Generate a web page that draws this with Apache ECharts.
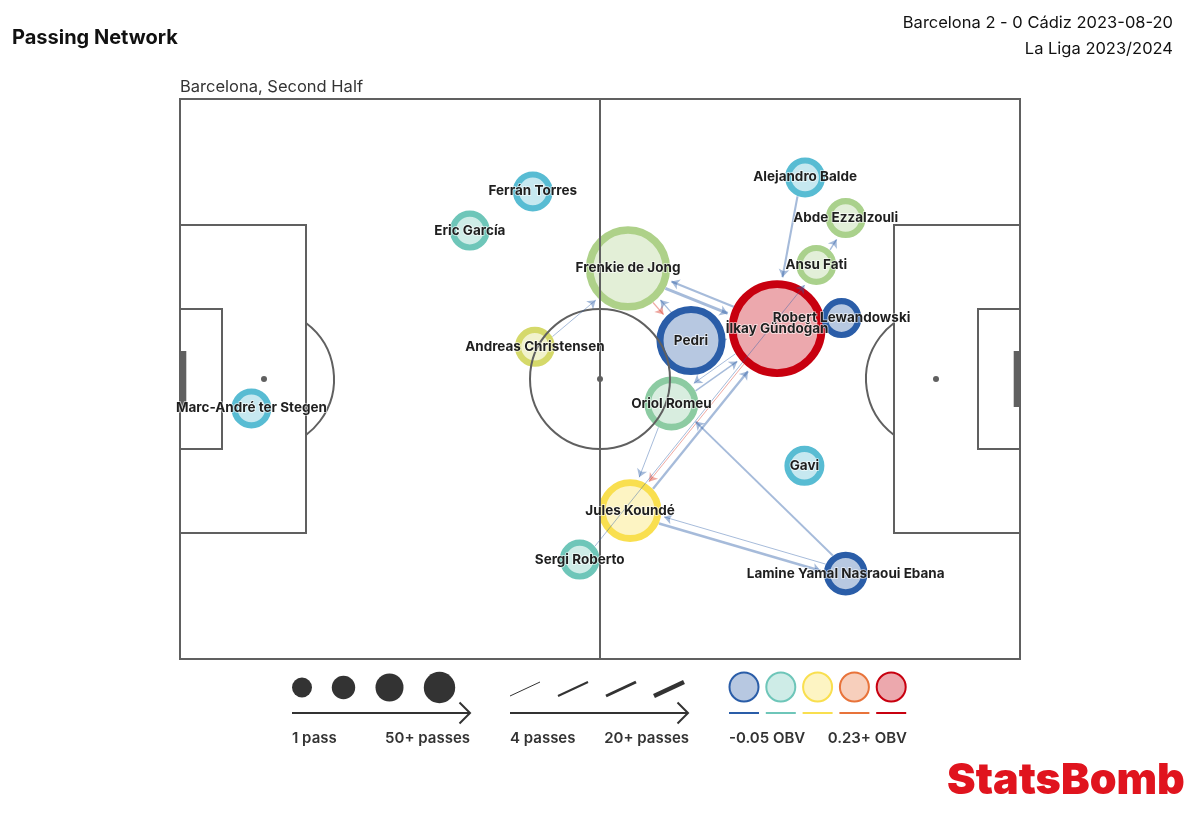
<!DOCTYPE html>
<html>
<head>
<meta charset="utf-8">
<title>Passing Network</title>
<script src="https://cdn.jsdelivr.net/npm/echarts@6/dist/echarts.min.js"></script>
<style>
  html, body { margin: 0; padding: 0; background: #fff; }
  #chart { width: 1200px; height: 828px; }
</style>
</head>
<body>
<div id="chart"></div>
<script>
// players, positions in StatsBomb pitch units (120 x 80, y pointing down)
const players = ['Marc-André ter Stegen', 'Ferrán Torres', 'Eric García', 'Andreas Christensen',
  'Frenkie de Jong', 'Pedri', 'İlkay Gündoğan', 'Robert Lewandowski', 'Ansu Fati',
  'Abde Ezzalzouli', 'Alejandro Balde', 'Oriol Romeu', 'Gavi', 'Jules Koundé',
  'Sergi Roberto', 'Lamine Yamal Nasraoui Ebana'];
const playerX = [10.2, 50.4, 41.4, 50.7, 64.0, 73.0, 85.3, 94.5, 90.9, 95.1, 89.3, 70.2, 89.2, 64.3, 57.1, 95.1];
const playerY = [44.2, 13.2, 18.8, 35.4, 24.2, 34.5, 32.8, 31.3, 23.7, 17.0, 11.2, 43.5, 52.4, 58.8, 65.8, 67.8];
const playerPasses = [1, 1, 1, 1, 36, 24, 46, 1, 1, 1, 1, 12, 1, 19, 1, 4];
const playerObv = [-0.015, -0.015, 0.02, 0.072, 0.052, -0.05, 0.23, -0.05, 0.05, 0.05, -0.015, 0.035, -0.015, 0.09, 0.02, -0.05];

// pass links between players
const edgeFrom = ['Alejandro Balde', 'Ansu Fati', 'Jules Koundé', 'İlkay Gündoğan', 'Oriol Romeu',
  'Jules Koundé', 'Lamine Yamal Nasraoui Ebana', 'Lamine Yamal Nasraoui Ebana', 'Sergi Roberto',
  'Andreas Christensen', 'Frenkie de Jong', 'İlkay Gündoğan', 'Frenkie de Jong', 'Pedri',
  'Oriol Romeu', 'İlkay Gündoğan', 'Pedri'];
const edgeTo = ['İlkay Gündoğan', 'Abde Ezzalzouli', 'İlkay Gündoğan', 'Jules Koundé', 'Jules Koundé',
  'Lamine Yamal Nasraoui Ebana', 'Jules Koundé', 'Oriol Romeu', 'Ansu Fati',
  'Frenkie de Jong', 'İlkay Gündoğan', 'Frenkie de Jong', 'Pedri', 'Frenkie de Jong',
  'İlkay Gündoğan', 'Oriol Romeu', 'İlkay Gündoğan'];
const edgePasses = [9, 6, 10, 4, 4, 11, 4, 8, 4, 4, 13, 9, 5, 5, 6, 4, 5];
const edgeObv = [-0.05, -0.05, -0.05, 0.2, -0.05, -0.05, -0.05, -0.05, -0.05, -0.05, -0.05, -0.05, 0.2, -0.05, -0.05, -0.05, -0.05];

// OBV colour scale
const obvStops = [-0.05, -0.015, 0.02, 0.09, 0.16, 0.23];
const obvColors = ['#2a5da8', '#58bcd3', '#6ec6b9', '#f9df4f', '#e8733a', '#c8000f'];
const legendObvColors = ['#2a5da8', '#6ec6b9', '#f9df4f', '#e8733a', '#c8000f'];

const pitchColor = '#606060';
const inkColor = '#1f1f1f';

function obvColor(v) {
  if (v <= obvStops[0]) return obvColors[0];
  for (let i = 1; i < obvStops.length; i++) {
    if (v <= obvStops[i]) {
      const t = (v - obvStops[i - 1]) / (obvStops[i] - obvStops[i - 1]);
      return echarts.color.lerp(t, [obvColors[i - 1], obvColors[i]]);
    }
  }
  return obvColors[obvColors.length - 1];
}
function lighten(c) {
  return echarts.color.lerp(0.66, [c, '#ffffff']);
}
// node radius in px from pass count
function nodeRadius(p) {
  return 20 + (Math.min(p, 50) - 1) / 49 * 31;
}
function ringWidth(r) {
  return 5 + r * 0.06;
}
function edgeWidth(n) {
  return 1 + (Math.min(n, 20) - 4) / 16 * 3.5;
}

const gridW = 840, gridH = 560;
const unitPx = gridW / 120;

const nodes = players.map((name, i) => {
  const r = nodeRadius(playerPasses[i]);
  const bw = ringWidth(r);
  const c = obvColor(playerObv[i]);
  return {
    name: name,
    value: [playerX[i], playerY[i]],
    r: r,
    symbolSize: 2 * (r - bw / 2),
    itemStyle: { color: lighten(c), borderColor: c, borderWidth: bw, opacity: 1 }
  };
}).sort((a, b) => b.r - a.r);

const byName = {};
nodes.forEach(n => { byName[n.name] = n; });

const edges = edgeFrom.map((from, i) => {
  const s = byName[from], t = byName[edgeTo[i]];
  const dx = t.value[0] - s.value[0], dy = t.value[1] - s.value[1];
  const len = Math.sqrt(dx * dx + dy * dy);
  const ux = dx / len, uy = dy / len;
  const w = edgeWidth(edgePasses[i]);
  const off = (3 + w / 2) / unitPx;
  const nx = -uy * off, ny = ux * off;
  const rs = s.r / unitPx, rt = (t.r + 3) / unitPx;
  return {
    coords: [
      [s.value[0] + ux * rs + nx, s.value[1] + uy * rs + ny],
      [t.value[0] - ux * rt + nx, t.value[1] - uy * rt + ny]
    ],
    lineStyle: { width: w, opacity: 1, color: echarts.color.modifyAlpha(obvColor(edgeObv[i]), 0.42) }
  };
});

function renderPitch(params, api) {
  const p = (x, y) => api.coord([x, y]);
  const u = api.size([1, 1])[0];
  const line = { stroke: pitchColor, lineWidth: 2, fill: null };
  const rect = (x0, y0, x1, y1) => {
    const a = p(x0, y0), b = p(x1, y1);
    return { type: 'rect', shape: { x: a[0], y: a[1], width: b[0] - a[0], height: b[1] - a[1] }, style: line };
  };
  const spot = (x, y) => {
    const a = p(x, y);
    return { type: 'circle', shape: { cx: a[0], cy: a[1], r: 3 }, style: { fill: pitchColor } };
  };
  const goal = (x0, x1) => {
    const a = p(x0, 36), b = p(x1, 44);
    return { type: 'rect', shape: { x: a[0], y: a[1], width: b[0] - a[0], height: b[1] - a[1] }, style: { fill: pitchColor } };
  };
  const c = p(60, 40), lp = p(12, 40), rp = p(108, 40);
  const half1 = p(60, 0), half2 = p(60, 80);
  const ang = Math.acos(0.6);
  return {
    type: 'group',
    children: [
      rect(0, 0, 120, 80),
      { type: 'line', shape: { x1: half1[0], y1: half1[1], x2: half2[0], y2: half2[1] }, style: line },
      { type: 'circle', shape: { cx: c[0], cy: c[1], r: 10 * u }, style: line },
      rect(0, 18, 18, 62),
      rect(0, 30, 6, 50),
      rect(102, 18, 120, 62),
      rect(114, 30, 120, 50),
      { type: 'arc', shape: { cx: lp[0], cy: lp[1], r: 10 * u, startAngle: -ang, endAngle: ang, clockwise: true }, style: line },
      { type: 'arc', shape: { cx: rp[0], cy: rp[1], r: 10 * u, startAngle: Math.PI - ang, endAngle: Math.PI + ang, clockwise: true }, style: line },
      goal(0, 0.9),
      goal(119.1, 120),
      spot(60, 40), spot(12, 40), spot(108, 40)
    ]
  };
}

const chart = echarts.init(document.getElementById('chart'), null, { renderer: 'canvas' });

const legendFont = '600 15px Inter';
const graphic = [
  { type: 'text', x: 12, y: 38, style: { text: 'Passing Network', font: 'bold 20px Inter', fill: '#111', verticalAlign: 'middle' } },
  { type: 'text', x: 1173, y: 23, style: { text: 'Barcelona 2 - 0 Cádiz 2023-08-20', font: '16.5px Inter', fill: '#111', align: 'right', verticalAlign: 'middle' } },
  { type: 'text', x: 1173, y: 49, style: { text: 'La Liga 2023/2024', font: '16.5px Inter', fill: '#111', align: 'right', verticalAlign: 'middle' } },
  { type: 'text', x: 180, y: 87, style: { text: 'Barcelona, Second Half', font: '16.5px Inter', fill: '#333', verticalAlign: 'middle' } },
  { type: 'text', x: 947, y: 781, style: { text: 'StatsBomb', font: '900 43px Inter', fill: '#e0141e', verticalAlign: 'middle' } }
];

// size legend
[[302, 10], [343.5, 11.7], [389.5, 14], [439.5, 15.7]].forEach(d => {
  graphic.push({ type: 'circle', shape: { cx: d[0], cy: 687.5, r: d[1] }, style: { fill: '#333' } });
});
// width legend
[[510, 1], [558, 2], [606, 3], [654, 4.5]].forEach(d => {
  graphic.push({ type: 'line', shape: { x1: d[0], y1: 696, x2: d[0] + 30, y2: 682 }, style: { stroke: '#333', lineWidth: d[1] } });
});
function arrow(x1, x2, y) {
  graphic.push({ type: 'polyline', shape: { points: [[x1, y], [x2, y]] }, style: { stroke: '#333', lineWidth: 2, fill: null } });
  graphic.push({ type: 'polyline', shape: { points: [[x2 - 10.5, y - 10.5], [x2, y], [x2 - 10.5, y + 10.5]] }, style: { stroke: '#333', lineWidth: 2, fill: null } });
}
arrow(292, 470, 713);
arrow(510, 688, 713);
// obv legend
legendObvColors.forEach((c, i) => {
  const cx = 744 + i * 36.8;
  graphic.push({ type: 'circle', shape: { cx: cx, cy: 687, r: 14.5 }, style: { fill: lighten(c), stroke: c, lineWidth: 2 } });
  graphic.push({ type: 'line', shape: { x1: cx - 15, y1: 713, x2: cx + 15, y2: 713 }, style: { stroke: c, lineWidth: 2 } });
});
[['1 pass', 292, 'left'], ['50+ passes', 470, 'right'], ['4 passes', 510, 'left'], ['20+ passes', 689, 'right'],
 ['-0.05 OBV', 729, 'left'], ['0.23+ OBV', 907, 'right']].forEach(d => {
  graphic.push({ type: 'text', x: d[1], y: 738, style: { text: d[0], font: legendFont, fill: '#333', align: d[2], verticalAlign: 'middle' } });
});

chart.setOption({
  animation: false,
  backgroundColor: '#ffffff',
  grid: { left: 180, top: 99, width: gridW, height: gridH },
  xAxis: { type: 'value', min: 0, max: 120, show: false },
  yAxis: { type: 'value', min: 0, max: 80, inverse: true, show: false },
  graphic: graphic,
  series: [
    {
      type: 'scatter',
      z: 1,
      silent: true,
      data: nodes.map(n => ({ name: n.name, value: n.value, symbolSize: n.symbolSize, itemStyle: n.itemStyle }))
    },
    {
      type: 'custom',
      z: 2,
      clip: false,
      silent: true,
      renderItem: renderPitch,
      data: [[0, 0]]
    },
    {
      type: 'lines',
      coordinateSystem: 'cartesian2d',
      z: 3,
      symbol: ['none', 'arrow'],
      symbolSize: 8,
      silent: true,
      data: edges
    },
    {
      type: 'scatter',
      z: 4,
      silent: true,
      symbolSize: 1,
      itemStyle: { color: 'rgba(0,0,0,0)', opacity: 1 },
      label: {
        show: true,
        position: 'inside',
        formatter: '{b}',
        color: inkColor,
        fontFamily: 'Inter',
        fontWeight: 'bold',
        fontSize: 13.5,
        textBorderColor: 'rgba(255,255,255,0.7)',
        textBorderWidth: 1.5
      },
      data: nodes.map(n => ({ name: n.name, value: n.value }))
    }
  ]
});
</script>
</body>
</html>
